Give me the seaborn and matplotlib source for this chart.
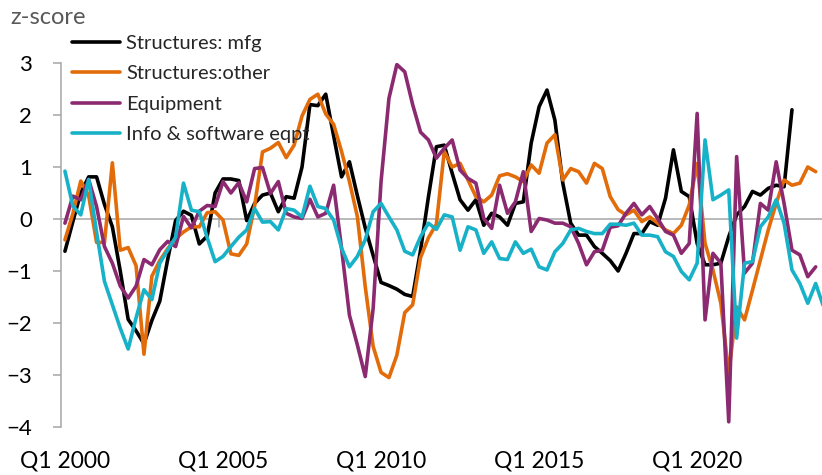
"""
Business investment components, z-scores by quarter (Q1 2000 onward).
"""

import matplotlib
matplotlib.use("Agg")
import matplotlib.pyplot as plt
import numpy as np
import pandas as pd
import seaborn as sns

# quarter labels for the category axis
QUARTERS = [f"Q{q} {y}" for y in range(2000, 2025) for q in range(1, 5)]
TICK_LABELS = ["Q1 2000", "Q1 2005", "Q1 2010", "Q1 2015", "Q1 2020"]

# z-scores, one value per quarter from Q1 2000
structures_mfg = [
    -0.62, -0.05, 0.50, 0.81, 0.81, 0.28, -0.15, -1.00, -1.93, -2.15,
    -2.40, -1.95, -1.58, -0.78, -0.03, 0.15, 0.07, -0.48, -0.33, 0.50,
    0.77, 0.77, 0.74, -0.03, 0.30, 0.46, 0.50, 0.14, 0.43, 0.40,
    1.00, 2.20, 2.18, 2.40, 1.60, 0.81, 1.10, 0.45, -0.17, -0.70,
    -1.22, -1.28, -1.35, -1.45, -1.49, -0.60, 0.43, 1.39, 1.42, 0.88,
    0.37, 0.17, 0.37, -0.12, 0.11, 0.04, -0.12, 0.30, 0.33, 1.46,
    2.16, 2.48, 1.90, 0.69, -0.08, -0.31, -0.31, -0.53, -0.66, -0.80,
    -1.00, -0.66, -0.28, -0.28, -0.05, -0.12, 0.40, 1.33, 0.53, 0.43,
    -0.47, -0.88, -0.88, -0.85, -0.34, 0.08, 0.24, 0.53, 0.46, 0.59,
    0.65, 0.62, 2.10,
]
structures_other = [
    -0.40, 0.10, 0.73, 0.45, -0.45, -0.45, 1.08, -0.60, -0.55, -0.90,
    -2.60, -1.10, -0.80, -0.57, -0.38, -0.25, -0.15, -0.15, 0.12, 0.14,
    -0.02, -0.67, -0.70, -0.48, 0.25, 1.29, 1.36, 1.47, 1.18, 1.42,
    1.98, 2.30, 2.40, 2.02, 1.82, 1.30, 0.72, 0.05, -1.30, -2.45,
    -2.95, -3.05, -2.62, -1.80, -1.65, -0.74, -0.36, -0.10, 1.30, 1.00,
    1.07, 0.75, 0.43, 0.33, 0.46, 0.83, 0.87, 0.81, 0.72, 1.04,
    0.88, 1.46, 1.62, 0.75, 0.97, 0.91, 0.69, 1.07, 0.97, 0.43,
    0.18, 0.08, 0.17, -0.05, 0.04, -0.08, -0.21, -0.28, -0.12, 0.27,
    1.07, -0.47, -0.98, -1.62, -2.97, -1.69, -1.94, -1.37, -0.79, -0.21,
    0.30, 0.75, 0.65, 0.69, 1.00, 0.91,
]
equipment = [
    -0.08, 0.44, 0.37, 0.76, 0.24, -0.53, -0.85, -1.29, -1.52, -1.29,
    -0.78, -0.88, -0.59, -0.43, -0.53, 0.05, -0.17, 0.15, 0.26, 0.24,
    0.72, 0.50, 0.70, 0.33, 0.97, 0.99, 0.49, 0.72, 0.11, 0.04,
    0.01, 0.38, 0.04, 0.11, 0.65, -0.56, -1.85, -2.42, -3.03, -1.72,
    0.72, 2.32, 2.97, 2.83, 2.20, 1.67, 1.52, 1.17, 1.36, 1.52,
    0.94, 0.78, 0.69, 0.01, -0.18, 0.65, 0.11, 0.33, 0.91, -0.24,
    0.01, -0.02, -0.08, -0.08, -0.15, -0.47, -0.88, -0.63, -0.60, -0.16,
    -0.13, 0.11, 0.30, 0.08, 0.24, 0.01, -0.24, -0.31, -0.66, -0.47,
    2.03, -1.94, -0.66, -0.85, -3.90, 1.20, -1.04, -0.85, 0.30, 0.17,
    1.10, 0.30, -0.60, -0.69, -1.11, -0.92,
]
info_software = [
    0.92, 0.25, 0.08, 0.76, -0.25, -1.20, -1.65, -2.10, -2.50, -1.90,
    -1.36, -1.55, -0.85, -0.60, -0.35, 0.69, 0.17, 0.14, -0.36, -0.82,
    -0.72, -0.53, -0.35, -0.21, 0.20, -0.06, -0.05, -0.21, 0.20, 0.17,
    0.04, 0.63, 0.24, 0.20, -0.02, -0.56, -0.92, -0.72, -0.40, 0.14,
    0.30, 0.04, -0.21, -0.62, -0.69, -0.34, -0.08, -0.20, 0.08, 0.04,
    -0.60, -0.15, -0.21, -0.66, -0.44, -0.76, -0.78, -0.44, -0.66, -0.58,
    -0.92, -0.98, -0.63, -0.47, -0.21, -0.18, -0.24, -0.28, -0.28, -0.10,
    -0.10, -0.12, -0.08, -0.31, -0.31, -0.34, -0.63, -0.72, -1.01, -1.17,
    -0.85, 1.52, 0.37, 0.46, 0.56, -2.29, -0.85, -0.82, -0.15, 0.04,
    0.37, -0.08, -0.98, -1.24, -1.62, -1.24, -1.69,
]

SERIES = [
    ("Structures: mfg", structures_mfg, "#000000"),
    ("Structures:other", structures_other, "#E36C0A"),
    ("Equipment", equipment, "#8B2A70"),
    ("Info & software eqpt", info_software, "#17B1C8"),
]
GRID_GREY = "#A6A6A6"

sns.set_theme(style="white")
plt.rcParams["font.family"] = ["Lato", "DejaVu Sans"]

fig = plt.figure(figsize=(8.22, 4.75), dpi=100)
ax = fig.add_axes([61 / 822, 48 / 475, 761 / 822, 364 / 475])

for name, values, color in SERIES:
    sns.lineplot(x=np.arange(len(values)), y=values, ax=ax, color=color,
                 linewidth=2.6, label=name, sort=False)

# horizontal axis sits at zero, Excel style
ax.axhline(0, color=GRID_GREY, linewidth=1.1, zorder=0)
tick_pos = [QUARTERS.index(t) for t in TICK_LABELS]
for t in tick_pos:
    ax.plot([t - 0.5, t - 0.5], [0, -0.15], color=GRID_GREY, linewidth=1.1, zorder=0)

ax.set_xlim(-0.5, 95.8)
ax.set_ylim(-4, 3)
ax.set_yticks(range(-4, 4))
ax.set_xticks(tick_pos)
ax.set_xticklabels(TICK_LABELS)
ax.tick_params(axis="x", length=0, pad=17, labelsize=16.5, colors="black")
ax.tick_params(axis="y", length=6, width=1.1, color=GRID_GREY, pad=15,
               labelsize=16, labelcolor="black", left=True)
ax.set_xlabel("")
ax.set_ylabel("")

for side in ["top", "right", "bottom"]:
    ax.spines[side].set_visible(False)
ax.spines["left"].set_color(GRID_GREY)
ax.spines["left"].set_linewidth(1.1)

fig.text(10 / 822, 1 - 18 / 475, "z-score", fontsize=17, color="#595959",
         va="center", ha="left")

ax.legend_.remove()
handles, labels = ax.get_legend_handles_labels()
fig.legend(handles, labels, loc="upper left", bbox_to_anchor=(72 / 822, 1 - 35 / 475),
           frameon=False, fontsize=14.5, handlelength=2.4, handletextpad=0.3,
           labelspacing=0.66, borderpad=0, borderaxespad=0)

fig.savefig("out.png", dpi=100)
plt.close(fig)
